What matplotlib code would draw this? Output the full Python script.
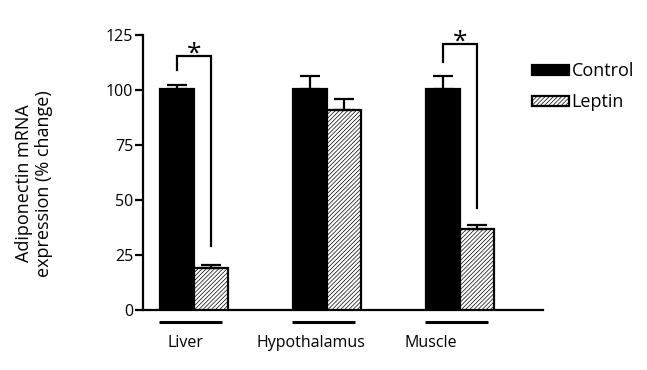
import matplotlib
matplotlib.use("Agg")
import matplotlib.pyplot as plt
import numpy as np

plt.rcParams['font.family'] = ['Open Sans', 'DejaVu Sans']
plt.rcParams['hatch.linewidth'] = 0.5
plt.rcParams['hatch.color'] = '#555555'

# data
tissues = ['Liver', 'Hypothalamus', 'Muscle']
control = [100.5, 100.5, 100.5]
control_err = [2.0, 6.0, 6.0]
leptin = [19.0, 91.0, 36.7]
leptin_err = [1.5, 5.0, 2.0]
series = ['Control', 'Leptin']
yticks = [0, 25, 50, 75, 100, 125]

# significance brackets: (group, left start, top, right end)
brackets = [(0, 109, 115.5, 29), (2, 113, 121, 46.5)]

fig = plt.figure(figsize=(6.47, 3.70), dpi=100)
ax = fig.add_axes([0.221, 0.162, 0.618, 0.743])

x = np.arange(len(tissues))
w = 0.256
lw = 1.6
ekw = dict(ecolor='black', elinewidth=lw, capsize=7, capthick=lw)
ax.bar(x - w/2, control, w, color='black', edgecolor='black', linewidth=lw,
       yerr=[np.zeros(3), control_err], error_kw=ekw, label=series[0], zorder=3)
ax.bar(x + w/2, leptin, w, color='white', edgecolor='black', linewidth=lw, hatch='////////',
       yerr=[np.zeros(3), leptin_err], error_kw=ekw, label=series[1], zorder=3)

for g, start, top, end in brackets:
    xl = x[g] - w/2
    xr = x[g] + w/2
    ax.plot([xl, xl, xr, xr], [start, top, top, end], color='black', lw=lw,
            clip_on=False, solid_joinstyle='miter', zorder=4)
    ax.text(x[g], top - 5.0, '*', ha='center', va='bottom', fontsize=19,
            clip_on=False)

ax.set_xlim(-0.383, 2.624)
ax.set_ylim(0, 125)
ax.set_yticks(yticks)
ax.set_xticks([])
ax.spines['top'].set_visible(False)
ax.spines['right'].set_visible(False)
ax.spines['left'].set_linewidth(lw)
ax.spines['bottom'].set_linewidth(lw)
ax.tick_params(axis='y', length=6, width=lw, labelsize=11.5, pad=1)

# group underlines and labels
label_shift = [-0.06, -0.12, -0.22]
for i, t in enumerate(tissues):
    ax.plot([x[i] - 0.26, x[i] + 0.21], [-5.3, -5.3], color='black', lw=2.2,
            clip_on=False, solid_capstyle='butt')
    ax.text(x[i] + label_shift[i], -15, t, ha='center', va='center', fontsize=11.5)

ax.set_ylabel('Adiponectin mRNA\nexpression (% change)', fontsize=13, linespacing=1.15)
ax.yaxis.set_label_coords(-0.226, 0.46)

# legend
ax.legend(loc='upper left', bbox_to_anchor=(0.822, 0.832), bbox_transform=fig.transFigure,
          frameon=False, fontsize=13, handlelength=2.05, handleheight=0.45,
          handletextpad=0.15, labelspacing=0.72, borderaxespad=0, borderpad=0)

fig.savefig('out.png', dpi=100)
